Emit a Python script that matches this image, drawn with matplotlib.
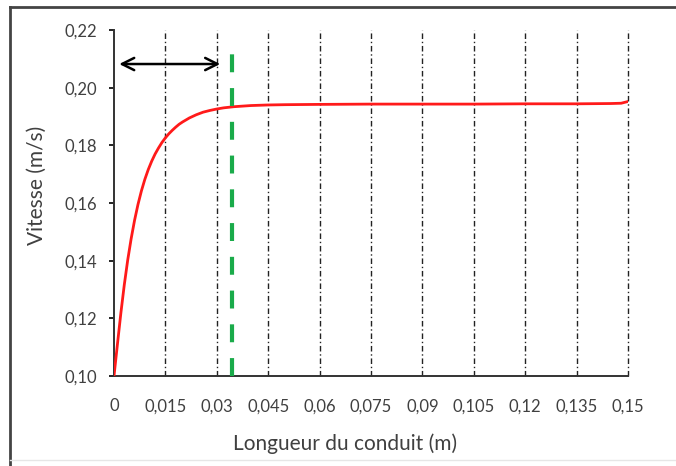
import numpy as np
import matplotlib.pyplot as plt
from matplotlib.lines import Line2D

# Data
longueur = [0, 0.001, 0.002, 0.003, 0.004, 0.005, 0.006, 0.007, 0.008, 0.009,
            0.010, 0.011, 0.012, 0.013, 0.014, 0.015, 0.016, 0.017, 0.018, 0.019,
            0.020, 0.022, 0.024, 0.026, 0.028, 0.030, 0.032, 0.035, 0.040, 0.045,
            0.050, 0.060, 0.075, 0.090, 0.105, 0.120, 0.135, 0.145, 0.148, 0.150]
vitesse = [0.1000, 0.1110, 0.1218, 0.1316, 0.1402, 0.1476, 0.1540, 0.1595, 0.1642, 0.1682,
           0.1716, 0.1745, 0.1770, 0.1791, 0.1810, 0.1826, 0.1840, 0.1852, 0.1863, 0.1873,
           0.1881, 0.1895, 0.1906, 0.1915, 0.1921, 0.1926, 0.1930, 0.1934, 0.1938, 0.1940,
           0.1941, 0.1942, 0.1943, 0.1943, 0.1943, 0.1944, 0.1944, 0.1945, 0.1946, 0.1952]
x_ticks = [0, 0.015, 0.03, 0.045, 0.06, 0.075, 0.09, 0.105, 0.12, 0.135, 0.15]
x_labels = ['0', '0,015', '0,03', '0,045', '0,06', '0,075', '0,09', '0,105', '0,12', '0,135', '0,15']
y_ticks = [0.10, 0.12, 0.14, 0.16, 0.18, 0.20, 0.22]
y_labels = ['0,10', '0,12', '0,14', '0,16', '0,18', '0,20', '0,22']
l_entree = 0.0345          # green dashed line
l_entree_top = 0.212
fleche = (0.0007, 0.0318, 0.2082)  # arrow start, end, height

plt.rcParams['font.family'] = ['Lato', 'DejaVu Sans']
txt = '#404040'

fig = plt.figure(figsize=(6.76, 4.66), dpi=100)
ax = fig.add_axes([114 / 676, 90 / 466, 514 / 676, 346 / 466])

# dash-dot grid lines at each tick
for xt in x_ticks[1:]:
    ax.axvline(xt, color='#222222', lw=1.0, ls=(0, (4, 2, 1, 2)), zorder=1, clip_on=False)

ax.plot(longueur, vitesse, color='#ff1a1a', lw=2, zorder=3)
ax.vlines(l_entree, 0.10, l_entree_top, color='#1aab4a', lw=3,
          linestyles=(0, (4.3, 3.8)), zorder=4)
ax.annotate('', xy=(fleche[1], fleche[2]), xytext=(fleche[0], fleche[2]),
            arrowprops=dict(arrowstyle='<->', color='black', lw=1.8,
                            mutation_scale=22), zorder=5)

ax.set_xlim(0, 0.15)
ax.set_ylim(0.10, 0.22)
ax.set_xticks(x_ticks)
ax.set_xticklabels(x_labels)
ax.set_yticks(y_ticks)
ax.set_yticklabels(y_labels)
ax.tick_params(axis='x', length=0, pad=16, labelsize=12, labelcolor=txt)
ax.tick_params(axis='y', length=3.5, width=1.2, direction='out', pad=8.5,
               labelsize=12, labelcolor=txt)
for s in ['top', 'right']:
    ax.spines[s].set_visible(False)
for s in ['left', 'bottom']:
    ax.spines[s].set_linewidth(1.4)
    ax.spines[s].set_color('#333333')

ax.set_xlabel('Longueur du conduit (m)', fontsize=15, color=txt)
ax.xaxis.set_label_coords(0.449, -0.165)
ax.set_ylabel('Vitesse (m/s)', fontsize=15, color=txt)
ax.yaxis.set_label_coords(-0.13, 0.55)

# frame around the figure
fig.add_artist(Line2D([10 / 676, 10 / 676], [0, 1 - 7 / 466], color='#444444', lw=2,
                      transform=fig.transFigure))
fig.add_artist(Line2D([10 / 676, 1], [1 - 7 / 466, 1 - 7 / 466], color='#444444', lw=2,
                      transform=fig.transFigure))
fig.add_artist(Line2D([10 / 676, 1], [6 / 466, 6 / 466], color='#e6e6e6', lw=1,
                      transform=fig.transFigure))

fig.savefig('out.png', dpi=100)
